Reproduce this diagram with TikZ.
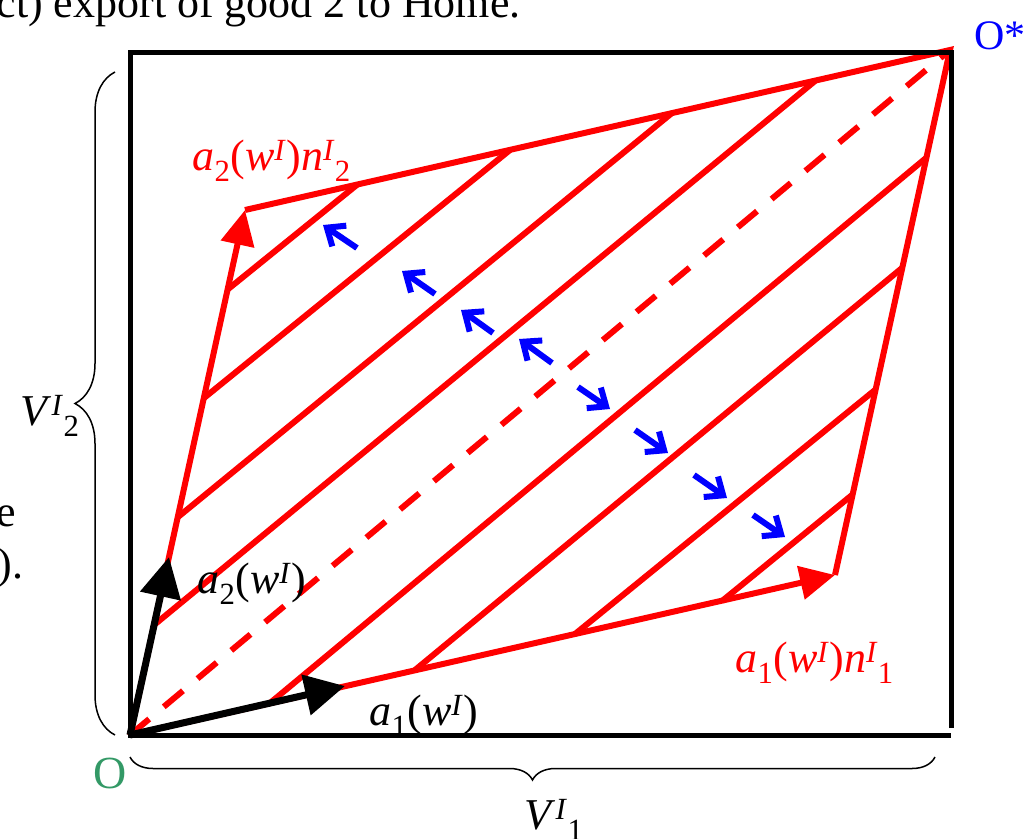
\documentclass[tikz,border=0pt]{standalone}
\usepackage{fontspec}
\setmainfont{Liberation Serif}
\usetikzlibrary{arrows.meta,decorations.pathreplacing}
\definecolor{ogreen}{RGB}{51,153,102}
\newcommand{\supI}{\textsuperscript{\textit{I}}}
\newcommand{\awI}[1]{\textit{a}\textsubscript{#1}(\textit{w}\supI)}

\begin{document}
\begin{tikzpicture}[x=1pt,y=-1pt,line width=5pt,inner sep=0pt,
    font=\fontsize{44}{52}\selectfont,
    redline/.style={draw=red,line width=6pt},
    redvec/.style={redline,-{Triangle[length=35pt,width=33pt]}},
    blackvec/.style={draw=black,line width=7pt,-{Triangle[length=40pt,width=40pt]}},
    flowarrow/.style={draw=blue,line width=6pt,-{Straight Barb[length=15pt,width=25pt]}},
    diagonal/.style={draw=red,line width=6pt,dash pattern=on 25pt off 19pt},
    curly/.style={draw=black,line width=1.5pt,decorate,decoration={brace,amplitude=#1}},
    lbltext/.style={anchor=base west}]
    \useasboundingbox (0,0) rectangle (1025,838);
    \clip (0,0) rectangle (1025,838);
    % corners of the box
    \coordinate (O) at (130,735);
    \coordinate (P1) at (835,575);
    \coordinate (P2) at (245,210);
    \coordinate (Ostar) at (950,50);
    \coordinate (A1) at (345,686);
    \coordinate (A2) at (169,557);
    % hatching
    \foreach \xa/\ya/\xb/\yb in {227/290/358/184, 204/398/510/150,
        178/517/672/113, 154/625/815/81, 270/703/926/158,
        415/670/902/268, 575/634/875/390, 722/601/852/495}
      \draw[redline] (\xa,\ya) -- (\xb,\yb);
    \draw[redline] (P2) -- (Ostar) -- (P1);
    \draw[redvec] (O) -- (P1);
    \draw[redvec] (O) -- (P2);
    \draw[diagonal] (O) -- (Ostar);
    \foreach \xa/\ya/\xb/\yb in {357/248/323/225, 435/294/402/271,
        493/333/461/310, 552/363/519/339, 578/387/610/409,
        635/430/668/453, 694/475/727/498, 753/515/785/537}
      \draw[flowarrow] (\xa,\ya) -- (\xb,\yb);
    \draw[blackvec] (O) -- (A1);
    \draw[blackvec] (O) -- (A2);
    % labels
    \node[lbltext,text=red] (n2) at (190,170) {\awI{2}\textit{n}\supI\textsubscript{2}};
    \node[lbltext,text=red] (n1) at (733,672) {\awI{1}\textit{n}\supI\textsubscript{1}};
    \node[lbltext] (a2) at (195,593) {\awI{2}};
    \node[lbltext] (a1) at (367,725) {\awI{1}};
    \node[lbltext,text=ogreen,font=\fontsize{46}{52}\selectfont] (olbl) at (91,788) {O};
    \node[lbltext,text=blue,font=\fontsize{42}{48}\selectfont] (ostarlbl) at (972,49) {O*};
    \node[lbltext] (v2) at (18,425) {\textit{V}\supI\textsubscript{2}};
    \node[lbltext] (v1) at (522,829) {\textit{V}\supI\textsubscript{1}};
    \node[lbltext] (title) at (-6,17) {ct) export of good 2 to Home.};
    \node[anchor=base east] (frag1) at (19,526) {e};
    \node[anchor=base east] (frag2) at (26,578) {).};
    % box
    \draw (951,728) -- (951,52) -- (130,52) -- (130,735) -- (951,735);
    \draw[curly=40pt] (115,735) -- (115,72);
    \draw[curly=23pt] (935,757) -- (130,757);
  \end{tikzpicture}
\end{document}
